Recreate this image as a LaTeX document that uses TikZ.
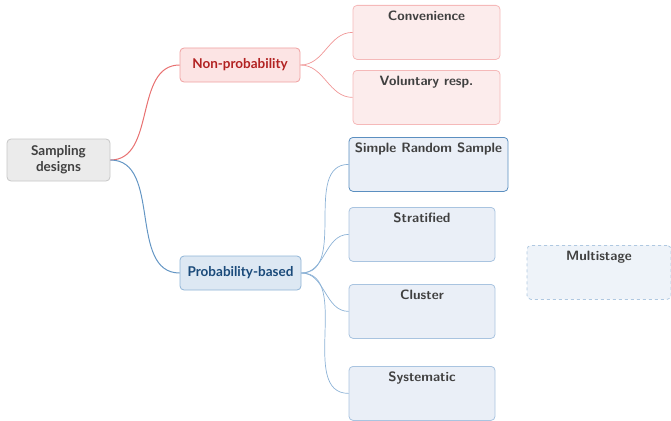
\documentclass[tikz,border=0pt]{standalone}
\usepackage{fontspec}
\newfontfamily\latofont{Lato}
\begin{document}
\begin{tikzpicture}[x=1pt,y=-1pt,
  base/.style={rounded corners=4pt, line width=0.8pt, align=center, inner sep=0pt},
  rootbox/.style={base, fill=black!8, draw=black!22, text=black!75, font=\latofont\bfseries\fontsize{13.5}{16}\selectfont, minimum width=103pt, minimum height=42pt},
  redmid/.style={base, fill={rgb,255:red,252;green,228;blue,228}, draw={rgb,255:red,240;green,160;blue,160}, text={rgb,255:red,178;green,34;blue,34}, font=\latofont\bfseries\fontsize{13.5}{16}\selectfont, minimum width=120pt, minimum height=34pt},
  bluemid/.style={base, fill={rgb,255:red,221;green,232;blue,243}, draw={rgb,255:red,143;green,180;blue,214}, text={rgb,255:red,26;green,74;blue,122}, font=\latofont\bfseries\fontsize{13.5}{16}\selectfont, minimum width=121pt, minimum height=34pt},
  leaf/.style={base, anchor=north, text height=12pt, text depth=36pt, inner ysep=3pt, text=black!75, font=\sffamily\bfseries\fontsize{13.5}{16}\selectfont},
  redleaf/.style={leaf, fill={rgb,255:red,252;green,236;blue,236}, draw={rgb,255:red,245;green,185;blue,185}, minimum width=147pt},
  blueleaf/.style={leaf, fill={rgb,255:red,234;green,239;blue,247}, draw={rgb,255:red,169;green,196;blue,224}, minimum width=146pt},
  rededge/.style={draw={rgb,255:red,232;green,112;blue,112}, line width=1pt},
  rededgethin/.style={draw={rgb,255:red,240;green,150;blue,150}, line width=0.7pt},
  blueedge/.style={draw={rgb,255:red,100;green,150;blue,196}, line width=1pt},
  blueedgethin/.style={draw={rgb,255:red,140;green,178;blue,214}, line width=0.7pt}
]
\useasboundingbox (0,0) rectangle (671,420);
\node[rootbox] (root) at (58.5,160) {Sampling\\designs};
\node[redmid] (np) at (240,65) {Non-probability};
\node[bluemid] (pb) at (240.5,273) {Probability-based};

\node[redleaf] (conv) at (426.5,5) {Convenience};
\node[redleaf] (vol) at (426.5,70) {Voluntary resp.};

\node[blueleaf, minimum width=159pt, draw={rgb,255:red,91;green,143;blue,192}] (srs) at (428.5,137) {Simple Random Sample};
\node[blueleaf] (strat) at (422,207) {Stratified};
\node[blueleaf] (clus) at (422,284) {Cluster};
\node[blueleaf] (sys) at (422,366) {Systematic};
\node[blueleaf, minimum width=144pt, dashed, fill={rgb,255:red,238;green,243;blue,249}, draw={rgb,255:red,175;green,200;blue,225}] (multi) at (599,245) {Multistage};

\draw[rededge] (root.east) to[out=0,in=180] (np.west);
\draw[blueedge] (root.east) to[out=0,in=180] (pb.west);
\draw[rededgethin] (np.east) to[out=0,in=180] (conv.west);
\draw[rededgethin] (np.east) to[out=0,in=180] (vol.west);
\draw[blueedgethin] (pb.east) to[out=0,in=180] (srs.west);
\draw[blueedgethin] (pb.east) to[out=0,in=180] (strat.west);
\draw[blueedgethin] (pb.east) to[out=0,in=180] (clus.west);
\draw[blueedgethin] (pb.east) to[out=0,in=180] (sys.west);
\end{tikzpicture}
\end{document}
